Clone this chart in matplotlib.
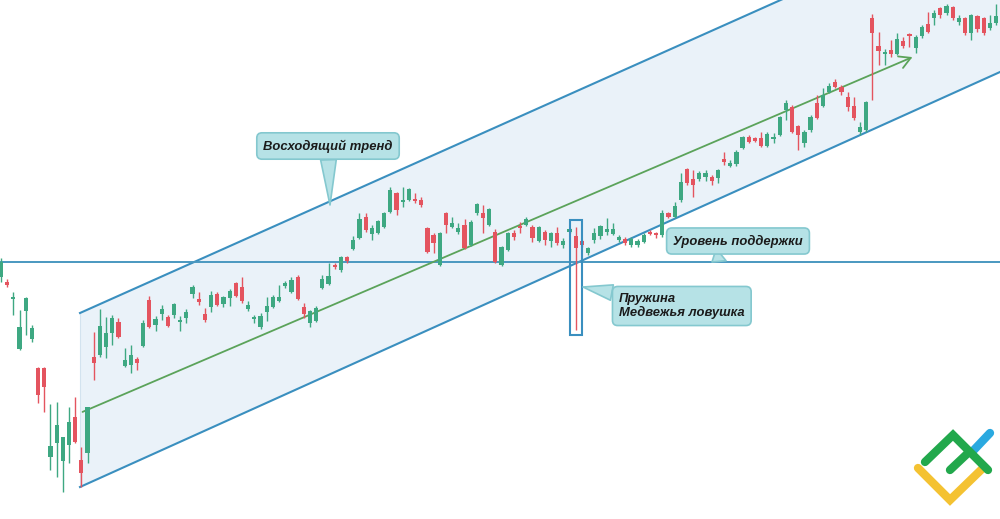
import numpy as np
import matplotlib
matplotlib.use("Agg")
import matplotlib.pyplot as plt
from matplotlib.patches import Rectangle

# chart readings (price levels are measured from the bottom of the chart, 519 = top)
TOP = 519

# OHLC of the 162 candles, read top-down in chart rows, converted below
open_px = [277, 282, 299, 349, 311, 339, 368, 368, 457, 443,
           461, 445, 417, 460, 453, 357, 355, 347, 333, 322,
           366, 365, 359, 346, 300, 325, 314, 317, 315, 322,
           318, 294, 299, 314, 307, 294, 304, 298, 283, 287,
           309, 319, 327, 312, 307, 301, 286, 292, 277, 307,
           323, 321, 288, 284, 265, 270, 257, 249, 238, 217,
           234, 233, 227, 212, 193, 202, 200, 199, 200, 228,
           235, 265, 213, 227, 232, 225, 245, 213, 213, 225,
           232, 265, 250, 233, 226, 225, 227, 241, 232, 241,
           233, 245, 232, 236, 241, 253, 240, 236, 232, 234,
           240, 239, 245, 245, 242, 232, 233, 235, 213, 217,
           200, 169, 179, 179, 177, 177, 178, 159, 166, 164,
           148, 137, 138, 138, 146, 139, 135, 110, 107, 126,
           143, 130, 103, 106, 92, 82, 87, 97, 106, 132,
           130, 18, 46, 54, 50, 54, 41, 34, 48, 36,
           24, 18, 8, 13, 7, 22, 18, 33, 16, 18,
           28, 23]
high_px = [258, 279, 292, 310, 297, 325, 367, 367, 404, 402,
           437, 407, 397, 447, 407, 332, 309, 317, 315, 318,
           348, 345, 357, 320, 296, 316, 305, 315, 303, 316,
           309, 285, 292, 308, 291, 292, 296, 289, 282, 277,
           301, 315, 313, 297, 295, 285, 281, 277, 275, 303,
           310, 306, 275, 263, 263, 256, 256, 236, 213, 213,
           225, 220, 212, 187, 192, 187, 188, 193, 197, 227,
           233, 232, 212, 217, 223, 219, 220, 203, 205, 208,
           229, 246, 232, 230, 222, 217, 225, 226, 230, 232,
           227, 238, 228, 227, 240, 247, 228, 225, 218, 223,
           235, 237, 237, 239, 233, 230, 232, 210, 212, 202,
           173, 168, 170, 171, 170, 175, 169, 152, 160, 150,
           136, 135, 137, 132, 132, 133, 116, 100, 105, 125,
           130, 115, 95, 88, 83, 79, 85, 92, 97, 122,
           101, 14, 32, 49, 40, 33, 37, 33, 35, 25,
           12, 10, 7, 4, 6, 15, 17, 14, 15, 17,
           15, 4]
low_px = [282, 287, 315, 350, 335, 342, 403, 412, 470, 477,
          492, 463, 443, 487, 463, 380, 357, 358, 345, 338,
          367, 373, 370, 347, 328, 331, 320, 327, 318, 331,
          323, 298, 305, 322, 312, 306, 307, 306, 297, 303,
          311, 323, 329, 321, 308, 302, 288, 293, 300, 318,
          327, 322, 289, 285, 269, 272, 263, 250, 239, 232,
          240, 234, 228, 213, 215, 207, 201, 203, 207, 253,
          253, 266, 233, 228, 234, 249, 246, 215, 233, 226,
          263, 266, 251, 240, 233, 226, 242, 242, 245, 247,
          245, 248, 233, 330, 247, 255, 243, 239, 235, 235,
          242, 245, 247, 247, 243, 235, 238, 237, 218, 218,
          202, 185, 197, 181, 181, 185, 183, 165, 167, 166,
          149, 143, 142, 147, 147, 143, 136, 120, 133, 150,
          147, 132, 119, 107, 93, 88, 95, 111, 120, 135,
          132, 100, 65, 65, 57, 55, 48, 47, 53, 38,
          33, 25, 18, 15, 20, 25, 35, 40, 32, 35,
          30, 25]
close_px = [262, 285, 297, 327, 298, 328, 395, 387, 446, 425,
            437, 422, 442, 473, 407, 363, 326, 333, 318, 337,
            360, 355, 363, 323, 327, 319, 309, 326, 304, 320,
            312, 287, 302, 320, 295, 305, 297, 291, 296, 301,
            305, 317, 316, 306, 297, 297, 283, 280, 299, 314,
            311, 308, 279, 276, 267, 257, 261, 240, 219, 230,
            228, 221, 213, 190, 210, 200, 189, 201, 205, 252,
            243, 233, 225, 223, 228, 248, 222, 204, 218, 209,
            262, 247, 233, 237, 228, 219, 238, 227, 240, 233,
            243, 241, 229, 248, 245, 248, 233, 226, 229, 229,
            237, 243, 239, 241, 235, 234, 235, 213, 217, 206,
            182, 183, 185, 173, 173, 181, 170, 162, 163, 152,
            137, 142, 141, 146, 134, 137, 117, 103, 132, 135,
            132, 117, 118, 95, 86, 87, 92, 107, 118, 127,
            102, 33, 51, 52, 54, 39, 46, 36, 37, 27,
            32, 13, 15, 6, 18, 18, 33, 15, 29, 33,
            23, 16]

open_ = TOP - np.array(open_px)
high = TOP - np.array(high_px)
low = TOP - np.array(low_px)
close = TOP - np.array(close_px)

# analyst lines: (x start, price start, x end, price end)
channel_upper = (80, 206, 1000, 617)
channel_lower = (80, 32, 1000, 447)
trend_line = (80, 106, 915, 463)
support_level = 257
trap_box = (570, 582, 184, 299)  # x0, x1, price low, price high

labels = ["Восходящий тренд", "Уровень поддержки", "Пружина\nМедвежья ловушка"]

GREEN = "#3ea882"
RED = "#e4545f"
BLUE = "#3a8fbf"
LINE_GREEN = "#5ba35a"
BOX_FC = "#b6e2e6"
BOX_EC = "#84c8cf"

fig = plt.figure(figsize=(10, 5.19), dpi=100)
ax = fig.add_axes([0, 0, 1, 1])
ax.set_xlim(0, 1000)
ax.set_ylim(0, TOP)
ax.axis("off")

# channel fill
xs = np.array([channel_upper[0], channel_upper[2]])
up = np.array([channel_upper[1], channel_upper[3]])
lo = np.array([channel_lower[1], channel_lower[3]])
ax.fill_between(xs, lo, up, color="#eaf2f9", zorder=0, lw=0)
ax.plot([xs[0], xs[0]], [lo[0], up[0]], color="#d3e3ef", lw=0.8, zorder=0)
ax.plot(xs, up, color=BLUE, lw=1.5, zorder=1)
ax.plot(xs, lo, color=BLUE, lw=1.5, zorder=1)
ax.axhline(support_level, color="#4a98c0", lw=1.4, zorder=1)

# candles
n = len(open_)
x = 1 + 6.18 * np.arange(n)
up_c = close >= open_
colors = np.where(up_c, GREEN, RED)
bottoms = np.minimum(open_, close)
heights = np.maximum(np.abs(close - open_), 1.5)
ax.vlines(x, low, high, colors=colors, lw=1.0, zorder=3)
ax.bar(x, heights, bottom=bottoms, width=4.2, color=colors, zorder=4)

# trend arrow
ax.annotate("", xy=(trend_line[2], trend_line[3]), xytext=(trend_line[0], trend_line[1]),
            arrowprops=dict(arrowstyle="->,head_length=0.8,head_width=0.45",
                            color=LINE_GREEN, lw=1.3), zorder=2)

# bear trap box
ax.add_patch(Rectangle((trap_box[0], trap_box[2]), trap_box[1] - trap_box[0],
                       trap_box[3] - trap_box[2], fill=False, ec=BLUE, lw=1.5, zorder=5))

# callouts
font = dict(family="Liberation Sans", weight="bold", style="italic", size=9.4, color="#1b1b1b")
bbox = dict(boxstyle="round,pad=0.5,rounding_size=0.4", fc=BOX_FC, ec=BOX_EC, lw=1.2)
wedge = dict(arrowstyle="wedge,tail_width=1.2,shrink_factor=0.5", fc=BOX_FC, ec=BOX_EC,
             lw=1.2, shrinkA=0, shrinkB=0)

ax.annotate(labels[0], xy=(330, 314), xytext=(328, 373), ha="center", va="center",
            bbox=bbox, arrowprops=wedge, zorder=6, **font)
ax.annotate(labels[1], xy=(712, 257), xytext=(738, 278), ha="center", va="center",
            bbox=bbox, arrowprops=wedge, zorder=6, **font)
ax.annotate(labels[2], xy=(583, 232), xytext=(619, 213), ha="left", va="center",
            ma="left", linespacing=1.1, bbox=bbox, arrowprops=wedge, zorder=6, **font)

# logo
ax.plot([918, 950, 983], [51, 19, 51], color="#f4c232", lw=6, solid_capstyle="round",
        solid_joinstyle="miter", zorder=7)
ax.plot([925, 953, 988], [57, 84, 49], color="#22a84c", lw=6, solid_capstyle="round",
        solid_joinstyle="miter", zorder=7)
ax.plot([950, 968], [49, 66], color="#22a84c", lw=6, solid_capstyle="round", zorder=7)
ax.plot([972, 990], [67, 86], color="#2aa9e0", lw=6, solid_capstyle="round", zorder=6)

fig.savefig("out.png", dpi=100)
